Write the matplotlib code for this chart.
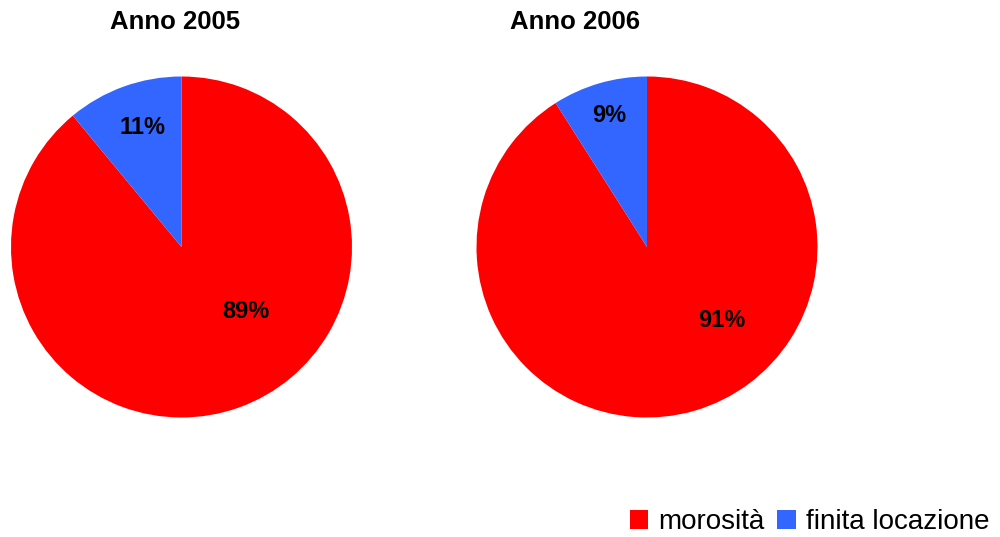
import matplotlib
matplotlib.use("Agg")
import matplotlib.pyplot as plt
from matplotlib.patches import Patch

# ---------------- dati ----------------
CATEGORIES = ["morosità", "finita locazione"]
YEARS = ["Anno 2005", "Anno 2006"]
VALUES_2005 = [89, 11]
VALUES_2006 = [91, 9]
COLORS = ["#FF0000", "#3366FF"]

plt.rcParams["font.family"] = ["Liberation Sans", "DejaVu Sans"]

W, H = 1000, 537
fig = plt.figure(figsize=(W / 100, H / 100), dpi=100)


def px_axes(cx, cy, r):
    """axes quadrato centrato sul punto (cx, cy) in pixel, raggio r"""
    return fig.add_axes([(cx - r) / W, (H - cy - r) / H, 2 * r / W, 2 * r / H])


def draw_pie(ax, values, label_pos):
    wedges, _, autotexts = ax.pie(
        values, colors=COLORS, startangle=90, counterclock=False,
        radius=1.0, autopct="%d%%",
        textprops=dict(fontsize=17, fontweight="bold", color="black"),
        wedgeprops=dict(linewidth=0),
    )
    for t, (x, y) in zip(autotexts, label_pos):
        t.set_position((x, y))
    ax.set_xlim(-1, 1)
    ax.set_ylim(-1, 1)
    ax.set_aspect("equal")
    ax.axis("off")


ax1 = px_axes(181.5, 247, 170.5)
draw_pie(ax1, VALUES_2005, [(0.38, -0.38), (-0.23, 0.70)])
ax2 = px_axes(647, 247, 170.5)
draw_pie(ax2, VALUES_2006, [(0.44, -0.43), (-0.22, 0.77)])

fig.text(175 / W, 1 - 22 / H, YEARS[0], ha="center", va="center", fontsize=18.5, fontweight="bold")
fig.text(575 / W, 1 - 22 / H, YEARS[1], ha="center", va="center", fontsize=18.5, fontweight="bold")

handles = [Patch(facecolor=c, edgecolor="none") for c in COLORS]
fig.legend(handles, CATEGORIES, loc="center right", bbox_to_anchor=(0.989, 1 - 522 / H),
           ncol=2, frameon=False, fontsize=20, handlelength=0.65, handleheight=0.65,
           handletextpad=0.36, columnspacing=0.47, borderpad=0, borderaxespad=0)

fig.savefig("out.png", dpi=100, facecolor="white")
